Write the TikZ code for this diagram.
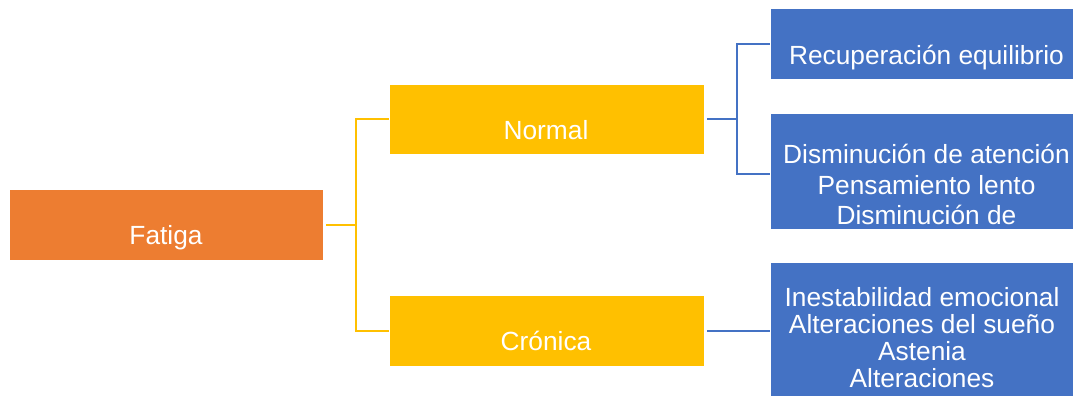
\documentclass[tikz,border=0pt]{standalone}
\usepackage{fontspec}
\setmainfont{Liberation Sans}
\definecolor{cOrange}{HTML}{ED7D31}
\definecolor{cGold}{HTML}{FFC000}
\definecolor{cBlue}{HTML}{4472C4}
\begin{document}
\begin{tikzpicture}[x=1pt,y=-1pt,
  boxbase/.style={rectangle,inner sep=0pt,draw=white,line width=0.6pt},
  obox/.style={boxbase,fill=cOrange},
  gbox/.style={boxbase,fill=cGold},
  bbox/.style={boxbase,fill=cBlue},
  txt/.style={text=white,anchor=base,inner sep=0pt,align=center,font=\fontsize{26.3}{30.5}\selectfont},
  gline/.style={draw=cGold,line width=2pt},
  bline/.style={draw=cBlue,line width=2pt}]
\clip (0,0) rectangle (1073,396);
\fill[white] (0,0) rectangle (1073,396);
% boxes
\node[obox,minimum width=314pt,minimum height=71pt] (fatiga) at (166,224.5) {};
\node[gbox,minimum width=315pt,minimum height=70pt] (normal) at (546.5,119) {};
\node[gbox,minimum width=315pt,minimum height=71pt] (cronica) at (546.5,330.5) {};
\node[bbox,minimum width=320pt,minimum height=71pt] (recup) at (930,43.5) {};
\node[bbox,minimum width=320pt,minimum height=116pt] (dismi) at (930,171) {};
\node[bbox,minimum width=320pt,minimum height=150pt] (inest) at (930,337) {};
% texts
\node[txt] (fatigaT) at (166,244) {Fatiga};
\node[txt] (normalT) at (546,139) {Normal};
\node[txt] (cronicaT) at (546,350) {Crónica};
\node[txt] (recupT) at (926.5,64) {Recuperación equilibrio};
\node[txt] (dismiT) at (926.5,224.5) {Disminución de atención\\Pensamiento lento\\Disminución de};
\node[txt,font=\fontsize{26.3}{27}\selectfont] (inestT) at (922,387) {Inestabilidad emocional\\Alteraciones del sueño\\Astenia\\Alteraciones};
% connectors
\coordinate (j1) at (356,224.5);
\draw[gline] ([xshift=3pt]fatiga.east) -- (j1);
\draw[gline] (normal.west) -| (j1) |- (cronica.west);
\coordinate (j2) at (737,119);
\draw[bline] ([xshift=3pt]normal.east) -- (j2);
\draw[bline] ([yshift=-0.5pt]recup.west) -| (j2) |- ([yshift=-3pt]dismi.west);
\draw[bline] ([xshift=3pt]cronica.east) -- (cronica.east -| inest.west);
\end{tikzpicture}
\end{document}
